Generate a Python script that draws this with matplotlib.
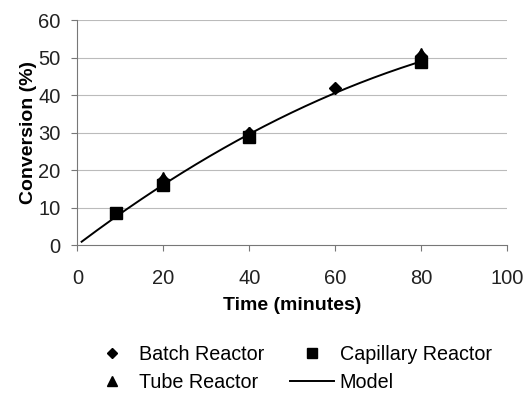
import matplotlib
matplotlib.use("Agg")
import matplotlib.pyplot as plt
import numpy as np
from matplotlib.lines import Line2D

plt.rcParams['font.family'] = ['Liberation Sans', 'DejaVu Sans']

batch_t = [20, 40, 60, 80]
batch_y = [17.5, 30, 42, 50.5]
cap_t = [9, 20, 40, 80]
cap_y = [8.6, 16, 28.8, 48.8]
tube_t = [20, 40, 80]
tube_y = [18, 30, 51]
model_t = [1, 10, 20, 30, 40, 50, 60, 70, 80]
model_y = [0.9, 8.4, 16.1, 23.2, 29.6, 35.4, 40.6, 45.1, 49.0]

fig = plt.figure(figsize=(5.26, 3.96), dpi=100)
ax = fig.add_axes([0.147, 0.381, 0.817, 0.568])

coef = np.polyfit(model_t, model_y, 2)
tt = np.linspace(model_t[0], model_t[-1], 200)
ax.plot(tt, np.polyval(coef, tt), color='black', lw=1.4, zorder=3)
ax.plot(batch_t, batch_y, 'D', color='black', ms=6.5, ls='none', zorder=4)
ax.plot(tube_t, tube_y, '^', color='black', ms=9, ls='none', zorder=4)
ax.plot(cap_t, cap_y, 's', color='black', ms=9, ls='none', zorder=5)

ax.set_xlim(0, 100)
ax.set_ylim(0, 60)
ax.set_xticks(range(0, 101, 20))
ax.set_yticks(range(0, 61, 10))
for y in range(10, 61, 10):
    ax.axhline(y, color='#bbbbbb', lw=0.8, zorder=1)
for s in ['top', 'right']:
    ax.spines[s].set_visible(False)
for s in ['left', 'bottom']:
    ax.spines[s].set_color('#777777')
ax.tick_params(colors='#777777', labelcolor='#222222', labelsize=14.5, length=4, width=0.8)
ax.tick_params(axis='x', pad=13)
ax.tick_params(axis='y', pad=8)
ax.set_xlabel('Time (minutes)', fontsize=14, fontweight='bold', labelpad=7)
ax.set_ylabel('Conversion (%)', fontsize=14, fontweight='bold', labelpad=1)

handles = [
    Line2D([], [], marker='D', color='black', ls='none', ms=5.5),
    Line2D([], [], marker='^', color='black', ls='none', ms=7.5),
    Line2D([], [], marker='s', color='black', ls='none', ms=7.5),
    Line2D([], [], color='black', lw=1.4),
]
labels = ['Batch Reactor', 'Tube Reactor', 'Capillary Reactor', 'Model']
fig.legend(handles, labels, ncol=2, loc='center', bbox_to_anchor=(0.553, 0.07),
           frameon=False, fontsize=14.2, handlelength=2.2, columnspacing=1.3,
           labelspacing=0.45, handletextpad=0.3)

fig.savefig('out.png', dpi=100)
